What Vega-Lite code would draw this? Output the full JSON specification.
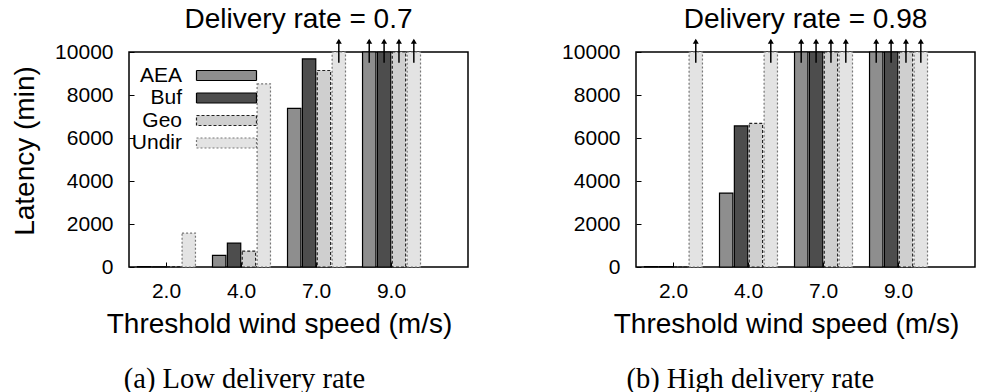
{
  "$schema": "https://vega.github.io/schema/vega-lite/v6.json",
  "background": "white",
  "padding": {"left": 10, "top": 5, "right": 0, "bottom": 0},
  "config": {
    "font": "Liberation Sans",
    "view": {"stroke": "black", "strokeWidth": 1.5},
    "axis": {"grid": false, "domain": false, "labelFont": "Liberation Sans", "labelFontSize": 21, "labelColor": "black", "tickColor": "black", "tickSize": -5, "tickWidth": 1, "titleFont": "Liberation Sans", "titleFontSize": 28, "titleFontWeight": "normal", "titleColor": "black"},
    "title": {"font": "Liberation Sans", "fontSize": 28, "fontWeight": "normal", "color": "black"}
  },
  "datasets": {
    "low": [
      {"speed": "2.0", "series": "AEA", "latency": 15, "offscale": false},
      {"speed": "2.0", "series": "Buf", "latency": 10, "offscale": false},
      {"speed": "2.0", "series": "Geo", "latency": 20, "offscale": false},
      {"speed": "2.0", "series": "Undir", "latency": 1580, "offscale": false},
      {"speed": "4.0", "series": "AEA", "latency": 540, "offscale": false},
      {"speed": "4.0", "series": "Buf", "latency": 1110, "offscale": false},
      {"speed": "4.0", "series": "Geo", "latency": 740, "offscale": false},
      {"speed": "4.0", "series": "Undir", "latency": 8520, "offscale": false},
      {"speed": "7.0", "series": "AEA", "latency": 7380, "offscale": false},
      {"speed": "7.0", "series": "Buf", "latency": 9680, "offscale": false},
      {"speed": "7.0", "series": "Geo", "latency": 9140, "offscale": false},
      {"speed": "7.0", "series": "Undir", "latency": 10000, "offscale": true},
      {"speed": "9.0", "series": "AEA", "latency": 10000, "offscale": true},
      {"speed": "9.0", "series": "Buf", "latency": 10000, "offscale": true},
      {"speed": "9.0", "series": "Geo", "latency": 10000, "offscale": true},
      {"speed": "9.0", "series": "Undir", "latency": 10000, "offscale": true}
    ],
    "high": [
      {"speed": "2.0", "series": "AEA", "latency": 15, "offscale": false},
      {"speed": "2.0", "series": "Buf", "latency": 20, "offscale": false},
      {"speed": "2.0", "series": "Geo", "latency": 10, "offscale": false},
      {"speed": "2.0", "series": "Undir", "latency": 10000, "offscale": true},
      {"speed": "4.0", "series": "AEA", "latency": 3440, "offscale": false},
      {"speed": "4.0", "series": "Buf", "latency": 6560, "offscale": false},
      {"speed": "4.0", "series": "Geo", "latency": 6680, "offscale": false},
      {"speed": "4.0", "series": "Undir", "latency": 10000, "offscale": true},
      {"speed": "7.0", "series": "AEA", "latency": 10000, "offscale": true},
      {"speed": "7.0", "series": "Buf", "latency": 10000, "offscale": true},
      {"speed": "7.0", "series": "Geo", "latency": 10000, "offscale": true},
      {"speed": "7.0", "series": "Undir", "latency": 10000, "offscale": true},
      {"speed": "9.0", "series": "AEA", "latency": 10000, "offscale": true},
      {"speed": "9.0", "series": "Buf", "latency": 10000, "offscale": true},
      {"speed": "9.0", "series": "Geo", "latency": 10000, "offscale": true},
      {"speed": "9.0", "series": "Undir", "latency": 10000, "offscale": true}
    ]
  },
  "spacing": 91,
  "hconcat": [
    {
      "title": {"text": "(a) Low delivery rate", "orient": "bottom", "anchor": "middle", "font": "Liberation Serif", "fontSize": 28.5, "baseline": "alphabetic", "offset": 49, "dx": 5},
      "resolve": {"scale": {"fill": "independent", "stroke": "independent", "strokeDash": "independent"}},
      "vconcat": [
        {
          "title": {"text": "Delivery rate = 0.7", "frame": "group", "baseline": "alphabetic", "offset": -17.5},
          "width": 339,
          "height": 215,
          "data": {"name": "low"},
          "encoding": {
            "x": {"field": "speed", "type": "nominal", "sort": ["2.0", "4.0", "7.0", "9.0"], "scale": {"range": [0, 300], "paddingInner": 0.227, "paddingOuter": 0.113}, "axis": {"title": "Threshold wind speed (m/s)", "labelAngle": 0, "labelPadding": 18.5, "titlePadding": 8.5}},
            "xOffset": {"field": "series", "type": "nominal", "sort": ["AEA", "Buf", "Geo", "Undir"], "scale": {"paddingInner": 0.1, "paddingOuter": 0}}
          },
          "layer": [
            {
              "mark": {"type": "bar", "strokeWidth": 1.2},
              "encoding": {
                "y": {"field": "latency", "type": "quantitative", "scale": {"domain": [0, 10000], "nice": false}, "axis": {"values": [0, 2000, 4000, 6000, 8000, 10000], "format": "d", "title": "Latency (min)", "labelPadding": 21, "titlePadding": 15.6, "titleY": 98.5}},
                "fill": {"field": "series", "type": "nominal", "scale": {"domain": ["AEA", "Buf", "Geo", "Undir"], "range": ["#8e8e8e", "#4d4d4d", "#cfcfcf", "#e3e3e3"]}, "legend": {"orient": "none", "legendX": 87, "legendY": 13, "title": null, "symbolType": "M-6,-1H6V1H-6Z", "symbolSize": 100, "symbolStrokeWidth": 1.2, "labelFontSize": 21, "labelFont": "Liberation Sans", "labelColor": "black", "labelAlign": "right", "labelOffset": -55, "rowPadding": 0.5, "padding": 0}},
                "stroke": {"field": "series", "type": "nominal", "scale": {"domain": ["AEA", "Buf", "Geo", "Undir"], "range": ["#000000", "#000000", "#222222", "#777777"]}, "legend": {"orient": "none", "legendX": 87, "legendY": 13, "title": null, "symbolType": "M-6,-1H6V1H-6Z", "symbolSize": 100, "symbolStrokeWidth": 1.2, "labelFontSize": 21, "labelFont": "Liberation Sans", "labelColor": "black", "labelAlign": "right", "labelOffset": -55, "rowPadding": 0.5, "padding": 0}},
                "strokeDash": {"field": "series", "type": "nominal", "scale": {"domain": ["AEA", "Buf", "Geo", "Undir"], "range": [[1, 0], [1, 0], [3, 2], [2, 2]]}, "legend": {"orient": "none", "legendX": 87, "legendY": 13, "title": null, "symbolType": "M-6,-1H6V1H-6Z", "symbolSize": 100, "symbolStrokeWidth": 1.2, "labelFontSize": 21, "labelFont": "Liberation Sans", "labelColor": "black", "labelAlign": "right", "labelOffset": -55, "rowPadding": 0.5, "padding": 0}}
              }
            },
            {
              "transform": [{"filter": "datum.offscale"}],
              "mark": {"type": "rule", "color": "black", "strokeWidth": 1.5},
              "encoding": {"y": {"datum": 9500}, "y2": {"datum": 10550}}
            },
            {
              "transform": [{"filter": "datum.offscale"}],
              "mark": {"type": "point", "shape": "triangle-up", "filled": true, "color": "black", "size": 36, "opacity": 1},
              "encoding": {"y": {"datum": 10500}}
            }
          ]
        }
      ]
    },
    {
      "title": {"text": "(b) High delivery rate", "orient": "bottom", "anchor": "middle", "font": "Liberation Serif", "fontSize": 28.5, "baseline": "alphabetic", "offset": 49, "dx": -18},
      "resolve": {"scale": {"fill": "independent", "stroke": "independent", "strokeDash": "independent"}},
      "vconcat": [
        {
          "title": {"text": "Delivery rate = 0.98", "frame": "group", "baseline": "alphabetic", "offset": -17.5},
          "width": 339,
          "height": 215,
          "data": {"name": "high"},
          "encoding": {
            "x": {"field": "speed", "type": "nominal", "sort": ["2.0", "4.0", "7.0", "9.0"], "scale": {"range": [0, 300], "paddingInner": 0.227, "paddingOuter": 0.113}, "axis": {"title": "Threshold wind speed (m/s)", "labelAngle": 0, "labelPadding": 18.5, "titlePadding": 8.5}},
            "xOffset": {"field": "series", "type": "nominal", "sort": ["AEA", "Buf", "Geo", "Undir"], "scale": {"paddingInner": 0.1, "paddingOuter": 0}}
          },
          "layer": [
            {
              "mark": {"type": "bar", "strokeWidth": 1.2},
              "encoding": {
                "y": {"field": "latency", "type": "quantitative", "scale": {"domain": [0, 10000], "nice": false}, "axis": {"values": [0, 2000, 4000, 6000, 8000, 10000], "format": "d", "title": null, "labelPadding": 21}},
                "fill": {"field": "series", "type": "nominal", "scale": {"domain": ["AEA", "Buf", "Geo", "Undir"], "range": ["#8e8e8e", "#4d4d4d", "#cfcfcf", "#e3e3e3"]}, "legend": null},
                "stroke": {"field": "series", "type": "nominal", "scale": {"domain": ["AEA", "Buf", "Geo", "Undir"], "range": ["#000000", "#000000", "#222222", "#777777"]}, "legend": null},
                "strokeDash": {"field": "series", "type": "nominal", "scale": {"domain": ["AEA", "Buf", "Geo", "Undir"], "range": [[1, 0], [1, 0], [3, 2], [2, 2]]}, "legend": null}
              }
            },
            {
              "transform": [{"filter": "datum.offscale"}],
              "mark": {"type": "rule", "color": "black", "strokeWidth": 1.5},
              "encoding": {"y": {"datum": 9500}, "y2": {"datum": 10550}}
            },
            {
              "transform": [{"filter": "datum.offscale"}],
              "mark": {"type": "point", "shape": "triangle-up", "filled": true, "color": "black", "size": 36, "opacity": 1},
              "encoding": {"y": {"datum": 10500}}
            }
          ]
        }
      ]
    }
  ]
}
